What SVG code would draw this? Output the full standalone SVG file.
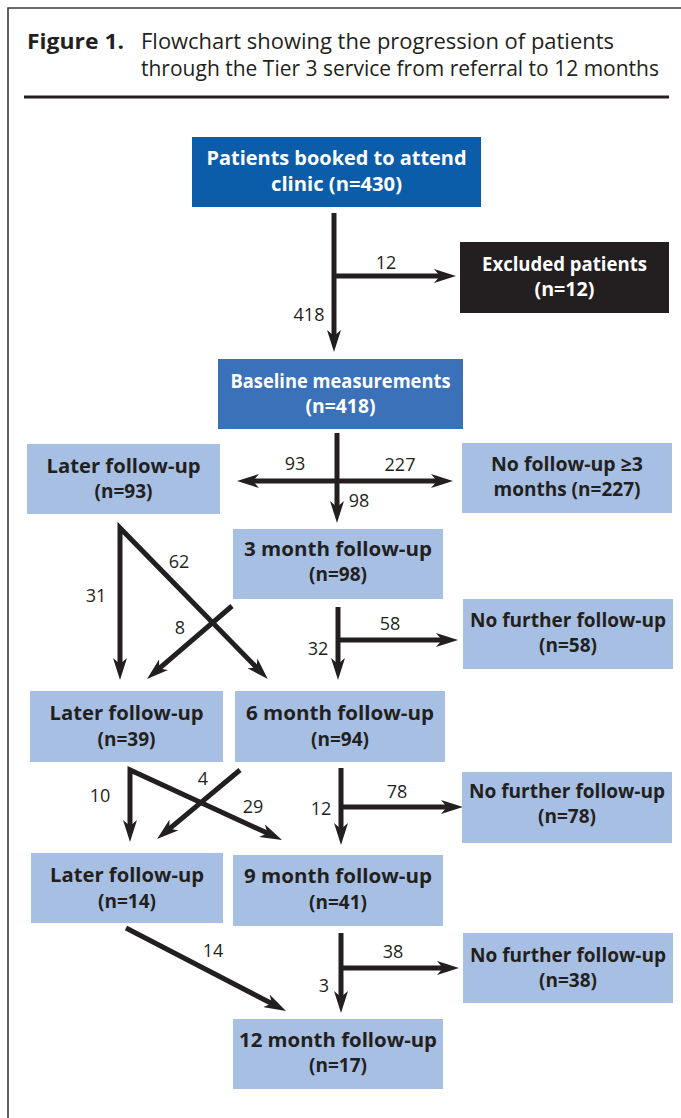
<svg xmlns="http://www.w3.org/2000/svg" width="681" height="1118" viewBox="0 0 681 1118">
<style>
.frame{fill:none;stroke:#3a3a3a;stroke-width:1.6}
.rule{stroke:#231F20;stroke-width:3}
.title{font-family:"Open Sans","Liberation Sans",sans-serif;font-size:21px;fill:#231F20}
.tb{font-weight:700}
.box{fill:#A7BFE3}
.dark{fill:#0B5DAA}
.mid{fill:#3A71B8}
.black{fill:#231F20}
.nt{font-family:"Open Sans","Liberation Sans",sans-serif;font-size:19px;font-weight:700;text-anchor:middle;fill:#231F20}
.wt{fill:#ffffff}
.lbl{font-family:"Open Sans","Liberation Sans",sans-serif;font-size:18px;text-anchor:middle;fill:#231F20}
.ar{fill:none;stroke:#231F20;stroke-width:5;stroke-linejoin:miter;stroke-miterlimit:10}
</style>
<defs>
<marker id="ah" viewBox="0 0 22 14" refX="8" refY="7" markerWidth="22" markerHeight="14" markerUnits="userSpaceOnUse" orient="auto-start-reverse">
<path d="M0,0 L22,7 L0,14 L6,7 Z" fill="#231F20"/>
</marker>
</defs>
<g id="frame">
<path class="frame" d="M681,8 L8,8 L8,1118"/>
<line class="rule" x1="24" y1="97" x2="669" y2="97"/>
<text class="title tb" x="27" y="49" textLength="97" lengthAdjust="spacingAndGlyphs">Figure 1.</text>
<text class="title" x="141" y="49" textLength="473" lengthAdjust="spacingAndGlyphs">Flowchart showing the progression of patients</text>
<text class="title" x="141" y="76" textLength="518" lengthAdjust="spacingAndGlyphs">through the Tier 3 service from referral to 12 months</text>
</g>
<g id="connectors">
<path class="ar" d="M334,213 L334,338" marker-end="url(#ah)"/>
<path class="ar" d="M334,276 L442,276" marker-end="url(#ah)"/>
<path class="ar" d="M337,433 L337,509" marker-end="url(#ah)"/>
<path class="ar" d="M251,481 L439,481" marker-start="url(#ah)" marker-end="url(#ah)"/>
<path class="ar" d="M338,607 L338,666" marker-end="url(#ah)"/>
<path class="ar" d="M338,640 L444,640" marker-end="url(#ah)"/>
<path class="ar" d="M120,666 L120,528 L258,669" marker-start="url(#ah)" marker-end="url(#ah)"/>
<path class="ar" d="M232,606 L157.6,669.9" marker-end="url(#ah)"/>
<path class="ar" d="M341,768 L341,831" marker-end="url(#ah)"/>
<path class="ar" d="M341,807 L449,807" marker-end="url(#ah)"/>
<path class="ar" d="M130,828 L130,770 L269.3,834.1" marker-start="url(#ah)" marker-end="url(#ah)"/>
<path class="ar" d="M240,770 L167.8,830.1" marker-end="url(#ah)"/>
<path class="ar" d="M341,933 L341,999" marker-end="url(#ah)"/>
<path class="ar" d="M341,968 L445,968" marker-end="url(#ah)"/>
<path class="ar" d="M126,928 L273.6,1004.5" marker-end="url(#ah)"/>
<text class="lbl" x="386" y="269">12</text>
<text class="lbl" x="309" y="321">418</text>
<text class="lbl" x="295" y="470">93</text>
<text class="lbl" x="400" y="471">227</text>
<text class="lbl" x="359" y="507">98</text>
<text class="lbl" x="179" y="568">62</text>
<text class="lbl" x="96" y="602">31</text>
<text class="lbl" x="180" y="634">8</text>
<text class="lbl" x="318" y="655">32</text>
<text class="lbl" x="390" y="630">58</text>
<text class="lbl" x="100" y="802">10</text>
<text class="lbl" x="203" y="785">4</text>
<text class="lbl" x="253" y="813">29</text>
<text class="lbl" x="321" y="815">12</text>
<text class="lbl" x="397" y="798">78</text>
<text class="lbl" x="213" y="957">14</text>
<text class="lbl" x="324" y="992">3</text>
<text class="lbl" x="393" y="958">38</text>
</g>
<g id="n1"><rect class="dark" x="192" y="137" width="289" height="70"/><text class="nt wt" x="336.5" y="165" textLength="260" lengthAdjust="spacingAndGlyphs">Patients booked to attend</text><text class="nt wt" x="336.5" y="191" textLength="131" lengthAdjust="spacingAndGlyphs">clinic (n=430)</text></g>
<g id="n2"><rect class="black" x="460" y="242" width="209" height="71"/><text class="nt wt" x="564.5" y="271" textLength="165" lengthAdjust="spacingAndGlyphs">Excluded patients</text><text class="nt wt" x="564.5" y="296" textLength="60" lengthAdjust="spacingAndGlyphs">(n=12)</text></g>
<g id="n3"><rect class="mid" x="218" y="359" width="245" height="70"/><text class="nt wt" x="340.5" y="388" textLength="220" lengthAdjust="spacingAndGlyphs">Baseline measurements</text><text class="nt wt" x="340.5" y="413" textLength="70" lengthAdjust="spacingAndGlyphs">(n=418)</text></g>
<g id="n4"><rect class="box" x="27" y="444" width="193" height="70"/><text class="nt" x="123.5" y="473" textLength="154" lengthAdjust="spacingAndGlyphs">Later follow-up</text><text class="nt" x="123.5" y="498">(n=93)</text></g>
<g id="n5"><rect class="box" x="462" y="443" width="210" height="70"/><text class="nt" x="567" y="471" textLength="152" lengthAdjust="spacingAndGlyphs">No follow-up ≥3</text><text class="nt" x="567" y="496" textLength="147" lengthAdjust="spacingAndGlyphs">months (n=227)</text></g>
<g id="n6"><rect class="box" x="233" y="529" width="210" height="70"/><text class="nt" x="338" y="556" textLength="188" lengthAdjust="spacingAndGlyphs">3 month follow-up</text><text class="nt" x="338" y="581">(n=98)</text></g>
<g id="n7"><rect class="box" x="463" y="599" width="210" height="70"/><text class="nt" x="568" y="627" textLength="196" lengthAdjust="spacingAndGlyphs">No further follow-up</text><text class="nt" x="568" y="652">(n=58)</text></g>
<g id="n8"><rect class="box" x="30" y="691" width="193" height="71"/><text class="nt" x="126.5" y="720" textLength="154" lengthAdjust="spacingAndGlyphs">Later follow-up</text><text class="nt" x="126.5" y="746">(n=39)</text></g>
<g id="n9"><rect class="box" x="235" y="691" width="210" height="71"/><text class="nt" x="340" y="720" textLength="188" lengthAdjust="spacingAndGlyphs">6 month follow-up</text><text class="nt" x="340" y="746">(n=94)</text></g>
<g id="n10"><rect class="box" x="462" y="772" width="210" height="71"/><text class="nt" x="567" y="798" textLength="196" lengthAdjust="spacingAndGlyphs">No further follow-up</text><text class="nt" x="567" y="823">(n=78)</text></g>
<g id="n11"><rect class="box" x="31" y="853" width="192" height="70"/><text class="nt" x="127" y="882" textLength="154" lengthAdjust="spacingAndGlyphs">Later follow-up</text><text class="nt" x="127" y="908">(n=14)</text></g>
<g id="n12"><rect class="box" x="233" y="855" width="210" height="71"/><text class="nt" x="338" y="883" textLength="188" lengthAdjust="spacingAndGlyphs">9 month follow-up</text><text class="nt" x="338" y="909">(n=41)</text></g>
<g id="n13"><rect class="box" x="463" y="933" width="210" height="70"/><text class="nt" x="568" y="962" textLength="196" lengthAdjust="spacingAndGlyphs">No further follow-up</text><text class="nt" x="568" y="987">(n=38)</text></g>
<g id="n14"><rect class="box" x="233" y="1019" width="210" height="70"/><text class="nt" x="338" y="1047" textLength="198" lengthAdjust="spacingAndGlyphs">12 month follow-up</text><text class="nt" x="338" y="1072">(n=17)</text></g>
</svg>
